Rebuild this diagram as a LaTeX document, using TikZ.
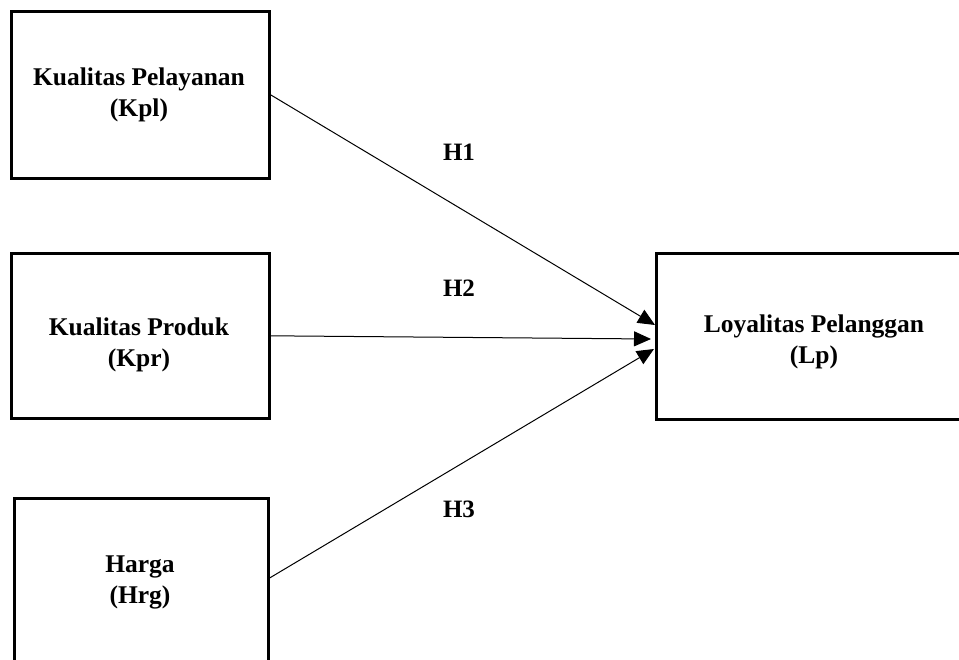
\documentclass[tikz,border=0pt]{standalone}
\usepackage{fontspec}
\setmainfont{Liberation Serif}
\usetikzlibrary{arrows.meta}
\tikzset{
  box/.style={draw, line width=2.6pt, anchor=north west, inner sep=0pt},
  lbl/.style={align=center, font=\fontsize{25.5}{31}\selectfont\bfseries, inner sep=0pt},
  hyp/.style={font=\fontsize{25}{28}\selectfont\bfseries, inner sep=0pt},
  conn/.style={line width=1pt, -{Triangle[length=17pt,width=15pt]}}
}
\begin{document}
\begin{tikzpicture}[x=1pt,y=-1pt]
\useasboundingbox (0,0) rectangle (959,660);
\node[box, minimum width=258pt, minimum height=167pt] (kpl) at (10,10) {};
\node[box, minimum width=258pt, minimum height=165pt] (kpr) at (10,252) {};
\node[box, minimum width=254pt, minimum height=200pt] (hrg) at (13,497) {};
\node[box, minimum width=330pt, minimum height=166pt] (lp) at (655,252) {};
\node[lbl] (tkpl) at (139,95) {Kualitas Pelayanan\\(Kpl)};
\node[lbl] (tkpr) at (139,345) {Kualitas Produk\\(Kpr)};
\node[lbl] (thrg) at (140,582) {Harga\\(Hrg)};
\node[lbl] (tlp) at (814,342) {Loyalitas Pelanggan\\(Lp)};
\node[hyp] (h1) at (459,152) {H1};
\node[hyp] (h2) at (459,288) {H2};
\node[hyp] (h3) at (459,509) {H3};
\coordinate (s1) at (kpl.east);
\coordinate (s2) at (kpr.east);
\coordinate (s3) at ([yshift=-81pt]hrg.north east);
\coordinate (e1) at ([yshift=-73pt]lp.north west);
\coordinate (e2) at ([yshift=-87pt,xshift=-4pt]lp.north west);
\coordinate (e3) at ([yshift=-97pt,xshift=-1pt]lp.north west);
\draw[conn] (s1) -- (e1);
\draw[conn] (s2) -- (e2);
\draw[conn] (s3) -- (e3);
\end{tikzpicture}
\end{document}
